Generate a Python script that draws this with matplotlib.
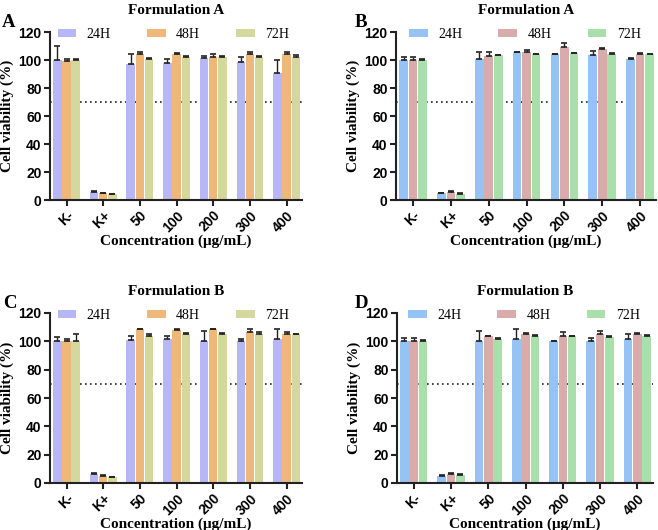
import matplotlib
matplotlib.use("Agg")
import matplotlib.pyplot as plt
import numpy as np

categories = ["K-", "K+", "50", "100", "200", "300", "400"]
series = ["24H", "48H", "72H"]

# Panel A (Formulation A)
a_24 = [100, 6, 97.5, 98, 101.5, 98.5, 91]
a_48 = [99.5, 5, 104.5, 104, 102.5, 104.5, 104]
a_72 = [100, 4, 101, 102.5, 102.5, 102.5, 102.5]
a_24_err = [10, 0.5, 6.5, 2.5, 1.5, 4, 9]
a_48_err = [1.5, 0.3, 1.5, 0.8, 1.5, 1.5, 2]
a_72_err = [0.5, 0.3, 0.3, 0.3, 0.3, 0.3, 1]

# Panel B (Formulation A)
b_24 = [100, 5, 101, 105.5, 104, 103.5, 101]
b_48 = [100, 6, 103, 106, 109, 108, 104]
b_72 = [100, 4.5, 103.5, 104, 105, 104.5, 104]
b_24_err = [2.5, 0.3, 4.5, 0.5, 0.3, 3, 0.5]
b_48_err = [2.5, 0.3, 3, 1, 3, 0.3, 1]
b_72_err = [0.8, 0.2, 0.3, 0.3, 0.3, 0.3, 0.3]

# Panel C (Formulation B)
c_24 = [100, 6.5, 101, 101.5, 100, 100.5, 101.5]
c_48 = [100, 5, 108.5, 108, 108.5, 106.5, 105.5]
c_72 = [100, 4, 104, 105.5, 105, 105.5, 105]
c_24_err = [3, 0.3, 2.5, 2, 7, 1.5, 7]
c_48_err = [2, 0.3, 0.5, 0.5, 0.3, 2.5, 1]
c_72_err = [5, 0.3, 1.5, 0.3, 1, 1, 0.5]

# Panel D (Formulation B)
d_24 = [100, 5, 100, 102, 100, 100.5, 102]
d_48 = [100, 6.5, 103.5, 105, 104, 105, 105]
d_72 = [100, 5.5, 102, 104, 103.5, 103, 104]
d_24_err = [2.5, 0.5, 7, 6.5, 0.5, 2, 3]
d_48_err = [2.5, 0.3, 0.3, 0.8, 2.5, 2, 1]
d_72_err = [0.8, 0.8, 0.3, 0.3, 0.3, 1, 0.3]

colors_ac = ["#b7b7f7", "#efb87b", "#d4d89d"]
colors_bd = ["#95c3f5", "#d9abaa", "#a9dfab"]

panels = [
    ("A", "Formulation A", [a_24, a_48, a_72], [a_24_err, a_48_err, a_72_err], colors_ac),
    ("B", "Formulation A", [b_24, b_48, b_72], [b_24_err, b_48_err, b_72_err], colors_bd),
    ("C", "Formulation B", [c_24, c_48, c_72], [c_24_err, c_48_err, c_72_err], colors_ac),
    ("D", "Formulation B", [d_24, d_48, d_72], [d_24_err, d_48_err, d_72_err], colors_bd),
]

W, H = 658, 530
fig = plt.figure(figsize=(W / 100, H / 100), dpi=100)

# axes boxes in pixels: left, top, right, bottom
boxes = [
    (50, 32, 302, 200),
    (396, 32, 656, 200),
    (50, 313, 302, 483),
    (397, 313, 653, 483),
]
letter_pos = [(2, 27), (355, 27), (3, 308), (355, 308)]
legend_cx = [0.49, 0.496, 0.49, 0.496]

serif = ["Liberation Serif", "DejaVu Serif"]
sans = ["Liberation Sans", "DejaVu Sans"]

for (letter, title, vals, errs, cols), (l, t, r, b), (lx, ly), lcx in zip(panels, boxes, letter_pos, legend_cx):
    ax = fig.add_axes([l / W, 1 - b / H, (r - l) / W, (b - t) / H])
    x = np.arange(len(categories))
    bw = 0.25
    for i, (v, e, c, name) in enumerate(zip(vals, errs, cols, series)):
        pos = x + (i - 1) * bw
        ax.bar(pos, v, width=bw * 0.92, color=c, edgecolor="none", label=name, zorder=2)
        ax.errorbar(pos, v, yerr=[np.zeros(len(v)), e], fmt="none", ecolor="#222222",
                    elinewidth=1.0, capsize=2.5, capthick=1.2, zorder=3)
    ax.axhline(70, color="#222222", linestyle=(0, (1, 2)), linewidth=1.2, zorder=1)
    ax.set_xlim(-0.45, 6.42)
    ax.set_ylim(0, 120)
    ax.set_yticks(range(0, 121, 20))
    ax.set_xticks(x)
    ax.set_xticklabels(categories, rotation=45, ha="right", rotation_mode="anchor",
                       fontweight="bold", fontsize=10, family=sans)
    for lab in ax.get_yticklabels():
        lab.set_fontweight("bold")
        lab.set_fontsize(10)
        lab.set_family(sans)
    for s in ["top", "right"]:
        ax.spines[s].set_visible(False)
    for s in ["left", "bottom"]:
        ax.spines[s].set_linewidth(1.5)
        ax.spines[s].set_color("#222222")
    ax.tick_params(axis="both", width=1.5, length=4, color="#222222", pad=2)
    ax.set_ylabel("Cell viability (%)", fontweight="bold", fontsize=11, family=serif, labelpad=3)
    ax.set_xlabel("Concentration (μg/mL)", fontweight="bold", fontsize=11, family=serif, labelpad=0)
    ax.set_title(title, fontweight="bold", fontsize=11, family=serif, pad=13)
    ax.legend(loc="center", bbox_to_anchor=(lcx, 0.985), ncol=3, frameon=False,
              handlelength=1.35, handleheight=0.45, columnspacing=2.6, handletextpad=0.75,
              borderpad=0, prop={"family": serif, "size": 10})
    fig.text(lx / W, 1 - ly / H, letter, fontsize=13.5, fontweight="bold",
             family=serif, ha="left", va="baseline")

fig.savefig("out.png", dpi=100)
